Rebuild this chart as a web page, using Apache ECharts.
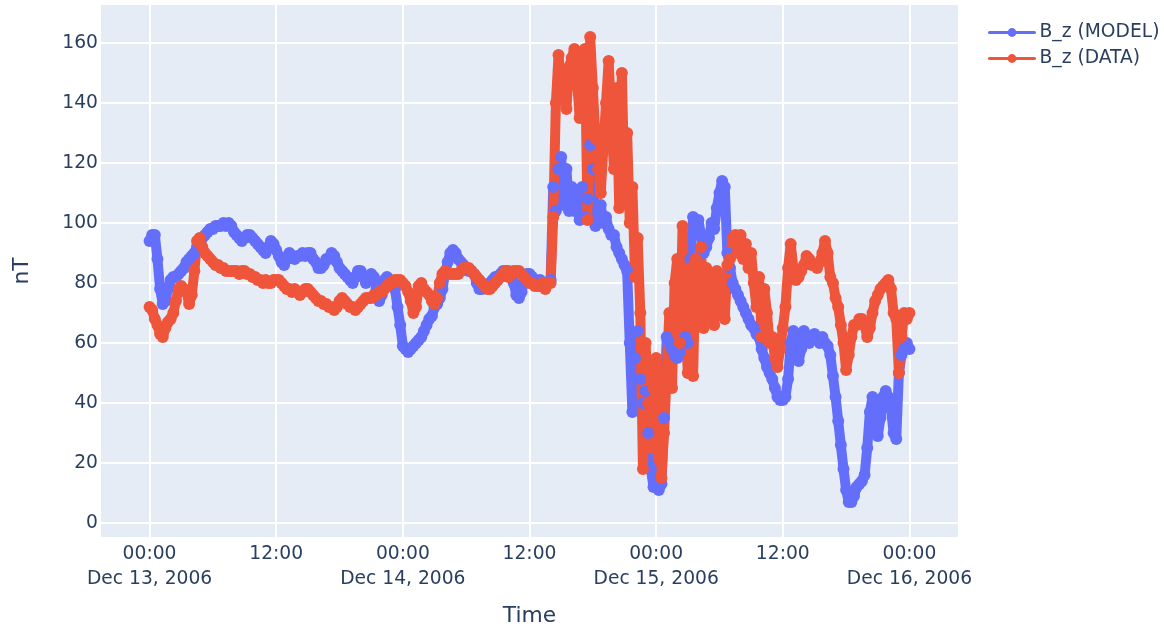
<!DOCTYPE html>
<html>
<head>
<meta charset="utf-8">
<script src="https://cdn.jsdelivr.net/npm/echarts@6/dist/echarts.min.js"></script>
<style>html,body{margin:0;padding:0;background:#fff}#c{width:1164px;height:627px}</style>
</head>
<body>
<div id="c"></div>
<script>
// Sampling step of the series (hours since Dec 13, 2006 00:00)
const STEP_HOURS = 0.25;
const xTickHours = [0, 12, 24, 36, 48, 60, 72];
const xTickLabels = ['00:00\nDec 13, 2006', '12:00', '00:00\nDec 14, 2006', '12:00', '00:00\nDec 15, 2006', '12:00', '00:00\nDec 16, 2006'];
const yTicks = [0, 20, 40, 60, 80, 100, 120, 140, 160];
const seriesNames = ['B_z (MODEL)', 'B_z (DATA)'];

const modelBz = [
  94, 96, 96, 88,   78, 73, 74, 78,   81, 82, 82, 83,   84, 85, 87, 88,
  89, 90, 92, 93,   95, 96, 97, 98,   98, 99, 99, 99,   100, 99, 100, 99,
  97, 96, 95, 94,   95, 96, 96, 95,   94, 93, 92, 91,   90, 92, 94, 93,
  91, 89, 87, 86,   88, 90, 89, 88,   89, 89, 90, 89,   90, 90, 88, 87,
  85, 85, 86, 88,   88, 90, 89, 87,   85, 84, 83, 82,   81, 80, 82, 84,
  84, 82, 80, 81,   83, 82, 78, 74,   76, 81, 82, 81,   80, 78, 72, 66,
  59, 58, 57, 58,   59, 60, 61, 62,   64, 66, 68, 69,   72, 73, 75, 78,
  83, 87, 90, 91,   90, 88, 87, 86,   85, 84, 84, 83,   80, 78, 78, 79,
  79, 80, 81, 82,   82, 83, 84, 84,   84, 83, 80, 76,   75, 77, 81, 83,
  83, 82, 81, 80,   81, 80, 79, 80,   81, 112, 104, 118, 122, 106, 118, 104,
  112, 104, 110, 101, 112, 102, 108, 126, 118, 99, 104, 106, 100, 102, 98, 96,
  96, 92, 90, 88,   86, 84, 60, 37,   55, 64, 48, 40,   44, 30, 18, 12,
  12, 11, 13, 35,   62, 60, 58, 56,   55, 57, 60, 62,   60, 88, 102, 100,
  101, 96, 90, 92,  95, 100, 98, 105, 110, 114, 112, 90, 85, 80, 78, 76,
  74, 72, 70, 68,   66, 65, 63, 62,   58, 55, 52, 50,   48, 45, 42, 41,
  41, 42, 48, 60,   64, 57, 54, 58,   64, 62, 60, 62,   63, 61, 60, 62,
  60, 59, 56, 49,   42, 34, 26, 18,   11, 7, 7, 9,     12, 13, 14, 16,
  25, 37, 42, 38,   29, 35, 42, 44,   42, 38, 30, 28,   50, 56, 58, 60,
  58
];

const dataBz = [
  72, 71, 68, 66,   63, 62, 65, 67,   68, 70, 74, 78,   79, 78, 77, 73,
  76, 84, 94, 95,   92, 90, 89, 88,   87, 86, 86, 85,   85, 84, 84, 84,
  84, 84, 83, 84,   84, 83, 83, 82,   82, 81, 81, 80,   81, 80, 80, 81,
  81, 81, 80, 79,   78, 78, 77, 78,   77, 76, 77, 78,   78, 77, 76, 75,
  74, 74, 73, 73,   72, 72, 71, 72,   74, 75, 74, 73,   72, 72, 71, 72,
  73, 74, 75, 75,   75, 76, 76, 77,   77, 78, 79, 80,   80, 81, 81, 81,
  80, 79, 77, 74,   70, 72, 79, 80,   78, 77, 76, 74,   73, 75, 80, 83,
  84, 83, 83, 83,   83, 83, 84, 85,   85, 85, 84, 83,   82, 81, 80, 79,
  78, 78, 79, 80,   81, 82, 83, 84,   82, 83, 84, 84,   84, 83, 82, 81,
  80, 80, 79, 79,   79, 80, 78, 80,   80, 102, 140, 156, 145, 150, 138, 152,
  155, 158, 148, 135, 150, 158, 101, 162, 145, 128, 118, 110, 125, 140, 154, 135,
  118, 145, 105, 150, 112, 130, 100, 112, 82, 95, 70, 18,  60, 40, 25, 45,
  55, 22, 15, 30,   50, 70, 45, 80,   88, 60, 99, 70,   50, 85, 49, 88,
  70, 92, 65, 85,   70, 80, 66, 84,   75, 82, 68, 86,   88, 95, 96, 90,
  96, 88, 93, 85,   90, 80, 72, 82,   62, 78, 70, 60,   62, 55, 52, 58,
  65, 72, 85, 93,   85, 81, 82, 84,   86, 89, 88, 86,   86, 85, 87, 90,
  94, 90, 82, 80,   75, 72, 66, 60,   51, 56, 62, 66,   66, 68, 68, 66,
  62, 65, 70, 74,   76, 78, 79, 80,   81, 78, 70, 68,   50, 62, 70, 68,
  70
];

function toPairs(values) {
  return values.map((v, i) => [i * STEP_HOURS, v]);
}

const FONT = '"DejaVu Sans", Verdana, sans-serif';
const TXT = '#2a3f5f';

const chart = echarts.init(document.getElementById('c'), null, { renderer: 'canvas' });
chart.setOption({
  animation: false,
  backgroundColor: '#ffffff',
  textStyle: { fontFamily: FONT, color: TXT },
  grid: {
    left: 101, right: 206, top: 5, bottom: 90,
    show: true, backgroundColor: '#E5ECF6', borderWidth: 0,
    containLabel: false,
    outerBoundsMode: 'none'
  },
  legend: {
    data: seriesNames,
    orient: 'vertical',
    left: 983, top: 18,
    itemWidth: 45, itemHeight: 11, itemGap: 7,
    lineStyle: { width: 3 },
    textStyle: { fontSize: 18.7, color: TXT, fontFamily: FONT }
  },
  xAxis: {
    type: 'value',
    min: -4.6, max: 76.6,
    name: 'Time',
    nameLocation: 'middle',
    nameGap: 68,
    nameTextStyle: { fontSize: 21.8, color: TXT, fontFamily: FONT },
    axisLine: { show: false },
    axisTick: { show: false, customValues: xTickHours },
    axisLabel: {
      customValues: xTickHours,
      fontSize: 18.7, color: TXT, lineHeight: 25, margin: 5,
      fontFamily: FONT,
      formatter: function (v) {
        const i = xTickHours.indexOf(Math.round(v));
        return i >= 0 ? xTickLabels[i] : '';
      }
    },
    splitLine: { show: true, lineStyle: { color: '#ffffff', width: 2 } }
  },
  yAxis: {
    type: 'value',
    min: -4.67, max: 172.67,
    name: 'nT',
    nameLocation: 'middle',
    nameGap: 68,
    nameRotate: 90,
    nameTextStyle: { fontSize: 21.8, color: TXT, fontFamily: FONT },
    axisLine: { show: false },
    axisTick: { show: false, customValues: yTicks },
    axisLabel: {
      customValues: yTicks,
      fontSize: 18.7, color: TXT, margin: 3, fontFamily: FONT
    },
    splitLine: { show: true, lineStyle: { color: '#ffffff', width: 2 } }
  },
  series: [
    {
      name: seriesNames[0],
      type: 'line',
      data: toPairs(modelBz),
      symbol: 'circle', symbolSize: 12, showAllSymbol: true,
      color: '#636EFA',
      lineStyle: { width: 10, color: '#636EFA', join: 'round', cap: 'round' },
      itemStyle: { color: '#636EFA' },
      clip: true
    },
    {
      name: seriesNames[1],
      type: 'line',
      data: toPairs(dataBz),
      symbol: 'circle', symbolSize: 12, showAllSymbol: true,
      color: '#EF553B',
      lineStyle: { width: 10, color: '#EF553B', join: 'round', cap: 'round' },
      itemStyle: { color: '#EF553B' },
      clip: true
    }
  ]
});
</script>
</body>
</html>
